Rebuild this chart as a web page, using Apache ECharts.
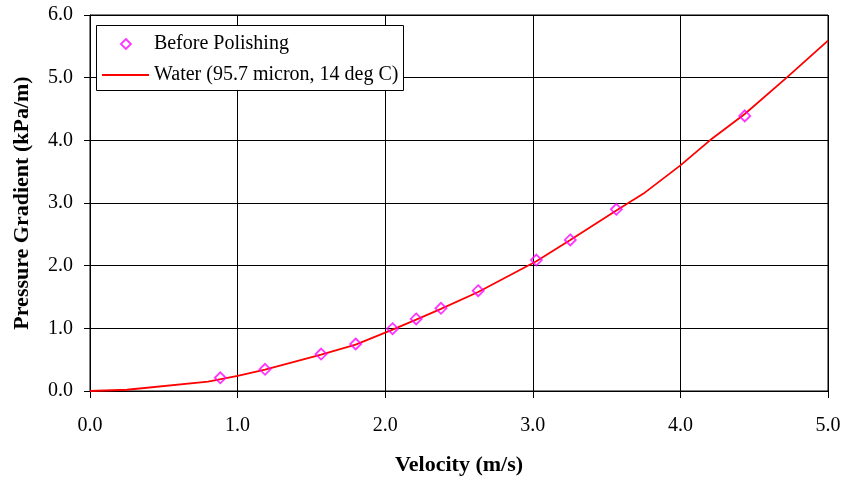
<!DOCTYPE html>
<html><head><meta charset="utf-8">
<script src="https://cdn.jsdelivr.net/npm/echarts@6/dist/echarts.min.js"></script>
<style>html,body{margin:0;padding:0;background:#fff}#c{width:846px;height:478px}</style>
</head><body><div id="c"></div>
<script>
// Measured data: Before Polishing
const pointX = [0.883, 1.186, 1.566, 1.80, 2.05, 2.21, 2.378, 2.63, 3.024, 3.254, 3.566, 4.436];
const pointY = [0.21, 0.346, 0.59, 0.75, 0.994, 1.15, 1.32, 1.60, 2.09, 2.41, 2.90, 4.39];
// Water (95.7 micron, 14 deg C) curve
const lineX = [0, 0.25, 0.80, 1.0, 1.186, 1.566, 1.80, 2.05, 2.21, 2.378, 2.63, 3.024, 3.254, 3.566, 3.75, 4.0, 4.2, 4.436, 4.72, 5.0];
const lineY = [0, 0.02, 0.15, 0.24, 0.34, 0.58, 0.74, 0.98, 1.14, 1.31, 1.58, 2.07, 2.41, 2.88, 3.15, 3.60, 4.0, 4.42, 5.0, 5.59];
const xTicks = [0, 1, 2, 3, 4, 5];
const yTicks = [0, 1, 2, 3, 4, 5, 6];
const seriesNames = ['Before Polishing', 'Water (95.7 micron, 14 deg C)'];

const font = 'Liberation Serif';
const chart = echarts.init(document.getElementById('c'), null, {renderer: 'canvas'});
chart.setOption({
  animation: false,
  backgroundColor: '#fff',
  textStyle: {fontFamily: font},
  grid: {left: 90, right: 18, top: 15, bottom: 87, show: true, borderColor: '#000', borderWidth: 1, containLabel: false, outerBoundsMode: 'none'},
  xAxis: {
    type: 'value', min: xTicks[0], max: xTicks[xTicks.length - 1], interval: 1,
    name: 'Velocity (m/s)', nameLocation: 'middle', nameGap: 63,
    nameTextStyle: {fontFamily: font, fontSize: 22, fontWeight: 'bold', color: '#000'},
    axisLine: {show: true, lineStyle: {color: '#000', width: 1}},
    axisTick: {show: true, inside: false, length: 7, lineStyle: {color: '#000'}},
    axisLabel: {fontFamily: font, fontSize: 20, color: '#000', margin: 25, formatter: v => v.toFixed(1)},
    splitLine: {show: true, lineStyle: {color: '#000', width: 1}}
  },
  yAxis: {
    type: 'value', min: yTicks[0], max: yTicks[yTicks.length - 1], interval: 1,
    name: 'Pressure Gradient (kPa/m)', nameLocation: 'middle', nameGap: 57, nameRotate: 90,
    nameTextStyle: {fontFamily: font, fontSize: 22, fontWeight: 'bold', color: '#000'},
    axisLine: {show: true, lineStyle: {color: '#000', width: 1}},
    axisTick: {show: true, inside: false, length: 6, lineStyle: {color: '#000'}},
    axisLabel: {fontFamily: font, fontSize: 20, color: '#000', margin: 17, formatter: v => v.toFixed(1)},
    splitLine: {show: true, lineStyle: {color: '#000', width: 1}}
  },
  graphic: [{
    type: 'rect', z: 10, shape: {x: 96.5, y: 25.5, width: 307, height: 65},
    style: {fill: '#fff', stroke: '#000', lineWidth: 1}
  }],
  legend: [{
    z: 20, left: 120, top: 34, itemWidth: 10, itemHeight: 10, padding: 0,
    data: [{name: seriesNames[0], icon: 'diamond', itemStyle: {color: 'transparent', borderColor: '#FF00FF', borderWidth: 1.8}}],
    textStyle: {fontFamily: font, fontSize: 20, color: '#000', padding: [0, 0, 0, 18]}
  }, {
    z: 20, left: 102, top: 65, itemWidth: 47, itemHeight: 2, padding: 0,
    data: [{name: seriesNames[1], icon: 'rect', itemStyle: {color: '#FF0000'}}],
    textStyle: {fontFamily: font, fontSize: 20, color: '#000'}
  }],
  series: [{
    name: seriesNames[1], type: 'line', z: 3,
    data: lineX.map((x, i) => [x, lineY[i]]),
    showSymbol: false, symbol: 'none',
    lineStyle: {color: '#FF0000', width: 1.8},
    itemStyle: {color: '#FF0000'}
  }, {
    name: seriesNames[0], type: 'scatter', z: 4,
    data: pointX.map((x, i) => [x, pointY[i]]),
    symbol: 'diamond', symbolSize: 11,
    itemStyle: {color: 'transparent', borderColor: '#FF00FF', borderWidth: 1.8}
  }]
});
</script></body></html>
